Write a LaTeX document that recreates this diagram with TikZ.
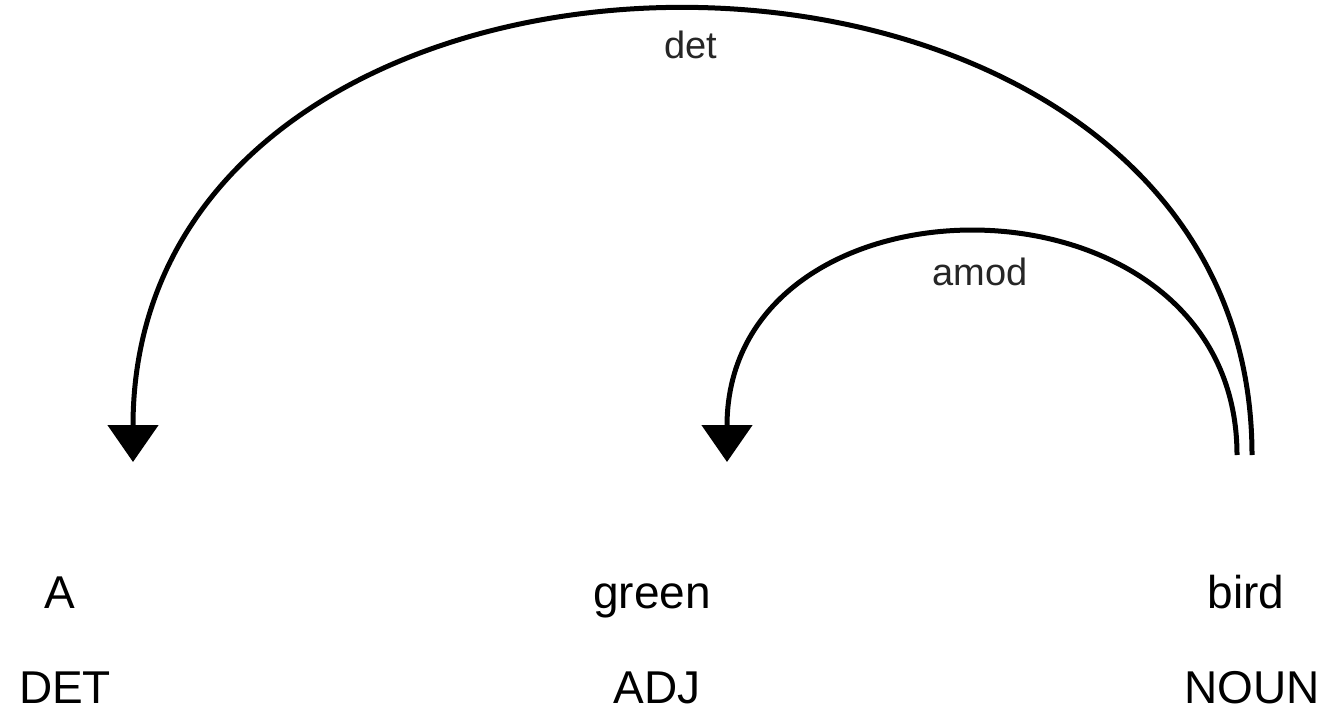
\documentclass[tikz,border=0pt]{standalone}
\usepackage{fontspec}
\setmainfont{Liberation Sans}
\usetikzlibrary{arrows.meta}
\begin{document}
\begin{tikzpicture}[x=1pt,y=-1pt,
  word/.style={anchor=base,inner sep=0pt,font=\fontsize{46}{55}\selectfont,text=black},
  deplabel/.style={anchor=base,inner sep=0pt,font=\fontsize{38}{46}\selectfont,text=black!85},
  arc/.style={line width=5pt,draw=black,-{Triangle[width=50pt,length=37pt]}}]
\useasboundingbox (0,0) rectangle (1327,711);
% words
\node[word] (w1) at (60,608) {A};
\node[word] (w2) at (652,608) {green};
\node[word] (w3) at (1246,608) {bird};
\node[word] (t1) at (65,703) {DET};
\node[word] (t2) at (657,703) {ADJ};
\node[word] (t3) at (1252,703) {NOUN};
% arc end points
\coordinate (detS) at (1252,455);
\coordinate (detE) at (133,462);
\coordinate (amodS) at (1237,455);
\coordinate (amodE) at (727,462);
% arcs
\draw[arc] (detS) .. controls (1252,-137) and (133,-137) .. (detE);
\draw[arc] (amodS) .. controls (1237,160) and (727,160) .. (amodE);
% labels
\node[deplabel] (ldet) at (691,59) {det};
\node[deplabel] (lamod) at (980,286) {amod};
\end{tikzpicture}
\end{document}
